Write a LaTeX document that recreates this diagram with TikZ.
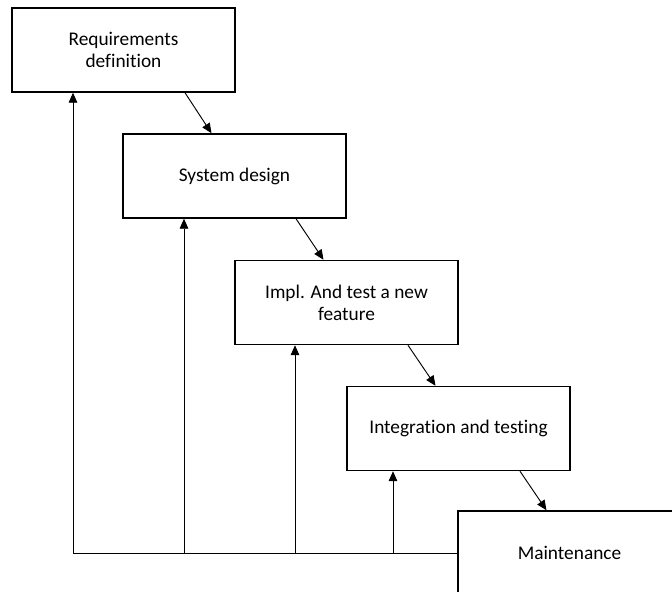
\documentclass[tikz,border=0pt]{standalone}
\usepackage{fontspec}
\setmainfont[Ligatures=NoCommon]{Carlito}
\usetikzlibrary{arrows.meta}
\tikzset{
  phase/.style = {
    draw, line width=1.1pt, rectangle, inner sep=0pt,
    minimum width=167.25pt, minimum height=63pt,
    align=center, font=\fontsize{14.5}{16.5}\selectfont
  },
  flow/.style = {-{Triangle[length=7.5pt, width=6.5pt]}, line width=0.7pt},
  feedback/.style = {flow, rounded corners=0pt}
}

\begin{document}
\begin{tikzpicture}[x=0.75pt, y=-0.75pt]

  \clip (0,0) rectangle (672,592);

  % Phases
  \node[phase] (req)    at (123.5,50)  {Requirements\\definition};
  \node[phase] (sysdes) at (234.5,176) {System design};
  \node[phase] (impl)   at (346.5,302.5) {Impl. And test a new\\feature};
  \node[phase] (integ)  at (458.5,428.5) {Integration and testing};
  \node[phase] (maint)  at (569.5,553) {Maintenance};

  % Forward flow
  \draw[flow] ([shift={(61.5,0)}]req.south)    -- ([shift={(-23,0)}]sysdes.north);
  \draw[flow] ([shift={(61.5,0)}]sysdes.south) -- ([shift={(-23,0)}]impl.north);
  \draw[flow] ([shift={(61.5,0)}]impl.south)   -- ([shift={(-23,0)}]integ.north);
  \draw[flow] ([shift={(61.5,0)}]integ.south)  -- ([shift={(-23,0)}]maint.north);

  % Feedback
  \draw[feedback] (maint.west) -| ([shift={(-50.5,0)}]req.south);
  \draw[feedback] (maint.west) -| ([shift={(-50.5,0)}]sysdes.south);
  \draw[feedback] (maint.west) -| ([shift={(-51.5,0)}]impl.south);
  \draw[feedback] (maint.west) -| ([shift={(-65.5,0)}]integ.south);

\end{tikzpicture}
\end{document}
